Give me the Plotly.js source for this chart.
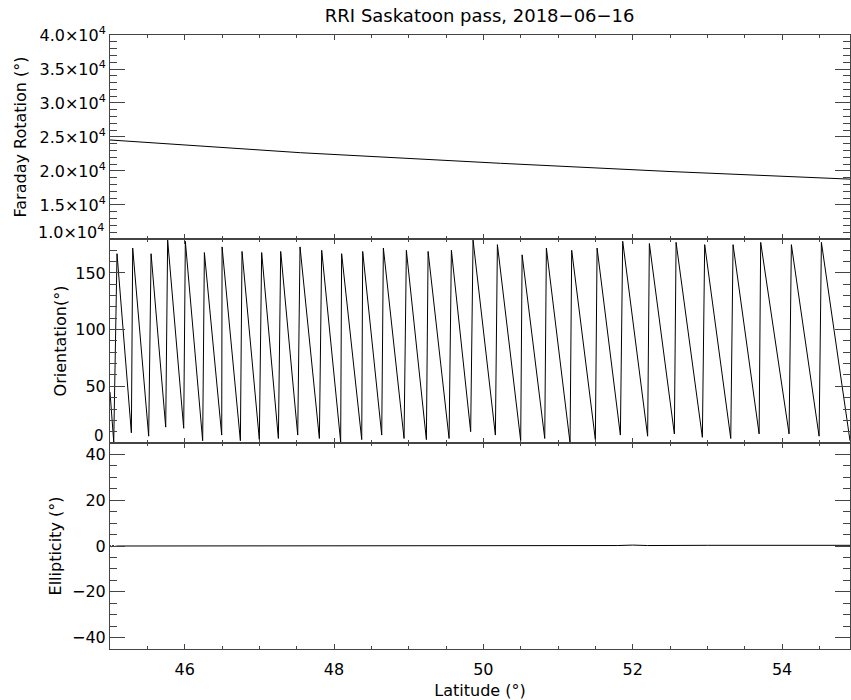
<!DOCTYPE html>
<html>
<head>
<meta charset="utf-8">
<script src="https://cdn.plot.ly/plotly-3.0.1.min.js"></script>
<style>html,body{margin:0;padding:0;background:#fff;}#chart{width:851px;height:700px;}.modebar-container,.modebar{display:none !important;}</style>
</head>
<body>
<div id="chart"></div>
<script>
// Faraday rotation (deg) vs latitude
const faradayLat = [45.0, 46.2, 47.55, 50.23, 52.5, 54.91];
const faradayVal = [24560, 23720, 22690, 21130, 19920, 18800];

// Orientation (deg) vs latitude: sawtooth peaks and troughs
const orientLat = [45.0, 45.05, 45.094, 45.286, 45.304, 45.518, 45.55, 45.746, 45.772, 45.987,
  46.009, 46.241, 46.264, 46.496, 46.501, 46.746, 46.768, 47.0, 47.031, 47.255,
  47.286, 47.514, 47.545, 47.804, 47.835, 48.089, 48.102, 48.371, 48.384, 48.639,
  48.661, 48.938, 48.969, 49.237, 49.26, 49.541, 49.572, 49.83, 49.862, 50.161,
  50.188, 50.5, 50.519, 50.822, 50.844, 51.161, 51.183, 51.5, 51.523, 51.835,
  51.866, 52.2, 52.223, 52.558, 52.581, 52.933, 52.964, 53.313, 53.344, 53.693,
  53.714, 54.094, 54.125, 54.496, 54.527, 54.91];
const orientVal = [45, 1, 167, 9, 172, 6, 167, 14, 179, 13,
  178, 2, 168, 7, 173, 2, 169, 3, 168, 4,
  169, 7, 173, 4, 170, 1, 167, 3, 169, 7,
  172, 4, 170, 3, 169, 4, 170, 10, 179, 7,
  175, 2, 166, 4, 172, 0, 170, 3, 172, 7,
  178, 6, 176, 8, 177, 5, 175, 4, 175, 8,
  177, 8, 175, 6, 177, 2];

// Ellipticity (deg) vs latitude
const ellipLat = [45.0, 45.02, 45.04, 45.06, 45.1, 46.0, 46.8, 46.9, 47.0, 47.1, 47.2, 48.0, 50.0, 51.8, 52.0, 52.2, 53.0, 54.3, 54.5, 54.7, 54.91];
const ellipVal = [0.3, -0.3, 0.3, -0.2, 0.0, 0.0, 0.0, 0.2, -0.1, 0.2, -0.1, 0.1, 0.2, 0.2, 0.4, 0.2, 0.3, 0.3, 0.5, 0.2, 0.3];

// Tick labels
const farTickVals = [10000, 15000, 20000, 25000, 30000, 35000, 40000];
const farTickText = ['', '1.5×10<sup>4</sup>', '2.0×10<sup>4</sup>', '2.5×10<sup>4</sup>', '3.0×10<sup>4</sup>', '3.5×10<sup>4</sup>', '4.0×10<sup>4</sup>'];
const farBottomLabel = '1.0×10<sup>4</sup>';
const oriTickVals = [0, 50, 100, 150];
const oriTickText = ['', '50', '100', '150'];
const oriBottomLabel = '0';

const FONT = 'DejaVu Sans, Liberation Sans, sans-serif';
const TF = {family: FONT, size: 16, color: '#000'};
const lineStyle = {color: '#000', width: 1};

const XR = [45.0, 54.91];
const YR1 = [10000, 40000], YR2 = [0, 180], YR3 = [-45, 45];

const traces = [
  {x: faradayLat, y: faradayVal, xaxis: 'x', yaxis: 'y', mode: 'lines', line: lineStyle, showlegend: false},
  {x: orientLat, y: orientVal, xaxis: 'x2', yaxis: 'y2', mode: 'lines', line: lineStyle, showlegend: false},
  {x: ellipLat, y: ellipVal, xaxis: 'x3', yaxis: 'y3', mode: 'lines', line: lineStyle, showlegend: false}
];

function xAx(extra) {
  return Object.assign({range: XR, dtick: 2, tick0: 46, ticks: 'inside', ticklen: 5,
    minor: {dtick: 0.5, ticks: 'inside', ticklen: 3},
    showline: true, mirror: 'allticks', showgrid: false, zeroline: false, tickfont: TF}, extra);
}
function yAx(extra) {
  return Object.assign({ticks: 'inside', ticklen: 15,
    showline: true, mirror: 'allticks', showgrid: false, zeroline: false, tickfont: TF}, extra);
}

const dTop = [0.6678, 1.0], dMid = [0.3355, 0.6678], dBot = [0.0, 0.3355];

const layout = {
  width: 851, height: 700,
  margin: {l: 110, r: 1, t: 35, b: 51},
  showlegend: false,
  title: {text: 'RRI Saskatoon pass, 2018−06−16', font: {family: FONT, size: 18, color: '#000'},
    x: 0.5637, xanchor: 'center', yref: 'container', y: 0.978, yanchor: 'middle'},
  xaxis: xAx({anchor: 'y', showticklabels: false}),
  xaxis2: xAx({anchor: 'y2', showticklabels: false}),
  xaxis3: xAx({anchor: 'y3', showticklabels: true, ticklabelstandoff: 6,
    title: {text: 'Latitude (°)', standoff: 6, font: TF}}),
  yaxis: yAx({domain: dTop, range: YR1,
    tickmode: 'array', tickvals: farTickVals, ticktext: farTickText,
    minor: {dtick: 1000, tick0: 10000, ticks: 'inside', ticklen: 7},
    title: {text: 'Faraday Rotation (°)', standoff: 8, font: TF}}),
  yaxis2: yAx({domain: dMid, range: YR2,
    tickmode: 'array', tickvals: oriTickVals, ticktext: oriTickText,
    minor: {dtick: 10, tick0: 0, ticks: 'inside', ticklen: 7},
    title: {text: 'Orientation(°)', standoff: 4, font: TF}}),
  yaxis3: yAx({domain: dBot, range: YR3, dtick: 20,
    minor: {dtick: 5, ticks: 'inside', ticklen: 7},
    title: {text: 'Ellipticity (°)', standoff: 6, font: TF}}),
  annotations: [
    {xref: 'paper', x: 0, xanchor: 'right', xshift: -4, yref: 'y', y: YR1[0], yanchor: 'middle', yshift: 7,
      text: farBottomLabel, showarrow: false, font: TF},
    {xref: 'paper', x: 0, xanchor: 'right', xshift: -4, yref: 'y2', y: YR2[0], yanchor: 'middle', yshift: 7,
      text: oriBottomLabel, showarrow: false, font: {family: FONT, size: 15, color: '#000'}}
  ]
};

Plotly.newPlot('chart', traces, layout);
</script>
</body>
</html>
